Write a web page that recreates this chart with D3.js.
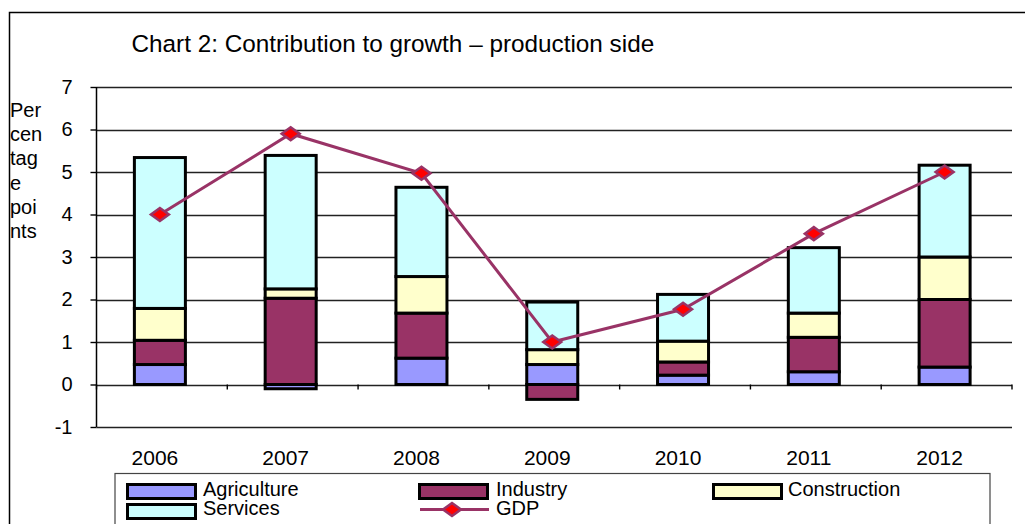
<!DOCTYPE html>
<html>
<head>
<meta charset="utf-8">
<script src="https://cdn.jsdelivr.net/npm/d3@7/dist/d3.min.js"></script>
<style>
  html, body { margin: 0; padding: 0; background: #fff; }
  svg { display: block; font-family: "Liberation Sans", Arial, sans-serif; }
</style>
</head>
<body>
<svg id="chart" width="1025" height="524"></svg>
<script>
// ---- data ----
const years = ["2006", "2007", "2008", "2009", "2010", "2011", "2012"];
const agriculture  = [0.47, -0.10, 0.62, 0.47, 0.22, 0.30, 0.41];
const industry     = [0.57, 2.03, 1.06, -0.35, 0.31, 0.81, 1.59];
const construction = [0.75, 0.22, 0.86, 0.35, 0.49, 0.57, 1.00];
const services     = [3.55, 3.14, 2.10, 1.12, 1.10, 1.54, 2.16];
const gdp          = [4.00, 5.90, 4.97, 1.00, 1.77, 3.55, 5.00];
const yTicks = [-1, 0, 1, 2, 3, 4, 5, 6, 7];
const seriesNames = ["Agriculture", "Industry", "Construction", "Services"];
const seriesColors = ["#9999FF", "#993366", "#FFFFCC", "#CCFFFF"];
const lineColor = "#993366";
const markerColor = "#FF0000";

(function () {
const table = years.map((yr, i) => ({
  year: yr,
  Agriculture: agriculture[i],
  Industry: industry[i],
  Construction: construction[i],
  Services: services[i],
  GDP: gdp[i]
}));

const svg = d3.select("#chart");
const font = '"Liberation Sans", Arial, sans-serif';

// outer frame
svg.append("rect").attr("x", 9.5).attr("y", 12.5).attr("width", 1040).attr("height", 540)
  .attr("fill", "none").attr("stroke", "#000").attr("stroke-width", 1.5);

// title
svg.append("text").attr("x", 131.5).attr("y", 52).attr("font-size", 24.3).attr("fill", "#000")
  .text("Chart 2: Contribution to growth \u2013 production side");

// plot geometry
const pLeft = 96.5, pRight = 1012, pTop = 87, pBottom = 427;
const y = d3.scaleLinear().domain([-1, 7]).range([pBottom, pTop]);
const x = d3.scaleBand().domain(years).range([pLeft, pRight]).padding(0);
const step = x.bandwidth();
const barW = 51;
const shift = -2;

// gridlines
svg.append("g").selectAll("line").data(yTicks).join("line")
  .attr("x1", pLeft).attr("x2", pRight)
  .attr("y1", d => Math.round(y(d)) + 0.5).attr("y2", d => Math.round(y(d)) + 0.5)
  .attr("stroke", "#222").attr("stroke-width", 1.4);

// y axis
const yAxis = d3.axisLeft(y).tickValues(yTicks).tickSize(6).tickPadding(18).tickFormat(d => String(d));
const gy = svg.append("g").attr("transform", `translate(${pLeft},0)`).call(yAxis);
gy.select(".domain").attr("stroke", "#000").attr("stroke-width", 1.5).attr("d", `M0,${pTop}V${pBottom}`);
gy.selectAll(".tick line").attr("stroke", "#000").attr("stroke-width", 1.4);
gy.selectAll(".tick text").attr("font-size", 20).attr("font-family", font).attr("fill", "#000");

// x ticks at category boundaries on zero line
const bounds = years.map(d => x(d)).concat([pRight]);
svg.append("g").selectAll("line").data(bounds).join("line")
  .attr("x1", d => d).attr("x2", d => d)
  .attr("y1", y(0)).attr("y2", y(0) + 5)
  .attr("stroke", "#000").attr("stroke-width", 1.4);

// x labels
svg.append("g").selectAll("text").data(years).join("text")
  .attr("x", d => x(d) + step / 2 - 7).attr("y", 465)
  .attr("text-anchor", "middle").attr("font-size", 21).attr("fill", "#000")
  .text(d => d);

// stacked bars
const stack = d3.stack().keys(seriesNames).offset(d3.stackOffsetDiverging);
const stacked = stack(table);
const color = d3.scaleOrdinal().domain(seriesNames).range(seriesColors);

svg.append("g").selectAll("g").data(stacked).join("g")
  .attr("fill", d => color(d.key))
  .selectAll("rect").data(d => d).join("rect")
  .attr("x", d => x(d.data.year) + (step - barW) / 2 + shift)
  .attr("width", barW)
  .attr("y", d => y(Math.max(d[0], d[1])))
  .attr("height", d => Math.abs(y(d[0]) - y(d[1])))
  .attr("stroke", "#000").attr("stroke-width", 3);

// GDP line
const cx = d => x(d.year) + step / 2 + shift;
const line = d3.line().x(cx).y(d => y(d.GDP));
svg.append("path").datum(table).attr("d", line)
  .attr("fill", "none").attr("stroke", lineColor).attr("stroke-width", 3);

const diamond = "M0,-6.5L9,0L0,6.5L-9,0Z";
svg.append("g").selectAll("path").data(table).join("path")
  .attr("transform", d => `translate(${cx(d)},${y(d.GDP)})`)
  .attr("d", diamond)
  .attr("fill", markerColor).attr("stroke", lineColor).attr("stroke-width", 2.5);

// y-axis title (wrapped)
const yTitle = ["Per", "cen", "tag", "e", "poi", "nts"];
svg.append("g").selectAll("text").data(yTitle).join("text")
  .attr("x", 10).attr("y", (d, i) => 117 + i * 24.2)
  .attr("font-size", 20).attr("fill", "#000").text(d => d);

// legend
svg.append("rect").attr("x", 115).attr("y", 473.5).attr("width", 875).attr("height", 80)
  .attr("fill", "#fff").attr("stroke", "#444").attr("stroke-width", 1.2);

const legendItems = [
  { name: "Agriculture", type: "bar", sx: 127.5, sy: 484.5, tx: 203, ty: 496 },
  { name: "Industry", type: "bar", sx: 419.5, sy: 484.5, tx: 496, ty: 496 },
  { name: "Construction", type: "bar", sx: 713.5, sy: 484.5, tx: 788, ty: 496 },
  { name: "Services", type: "bar", sx: 127.5, sy: 504.5, tx: 203, ty: 515 },
  { name: "GDP", type: "line", sx: 420, sy: 509.5, tx: 496, ty: 515 }
];
const lg = svg.append("g");
legendItems.forEach(it => {
  if (it.type === "bar") {
    lg.append("rect").attr("x", it.sx).attr("y", it.sy).attr("width", 68).attr("height", 14)
      .attr("fill", color(it.name)).attr("stroke", "#000").attr("stroke-width", 3);
  } else {
    lg.append("line").attr("x1", it.sx).attr("x2", it.sx + 69).attr("y1", it.sy).attr("y2", it.sy)
      .attr("stroke", lineColor).attr("stroke-width", 3);
    lg.append("path").attr("transform", `translate(${it.sx + 32},${it.sy})`).attr("d", diamond)
      .attr("fill", markerColor).attr("stroke", lineColor).attr("stroke-width", 2.5);
  }
  lg.append("text").attr("x", it.tx).attr("y", it.ty).attr("font-size", 20).attr("fill", "#000").text(it.name);
});
})();
</script>
</body>
</html>
